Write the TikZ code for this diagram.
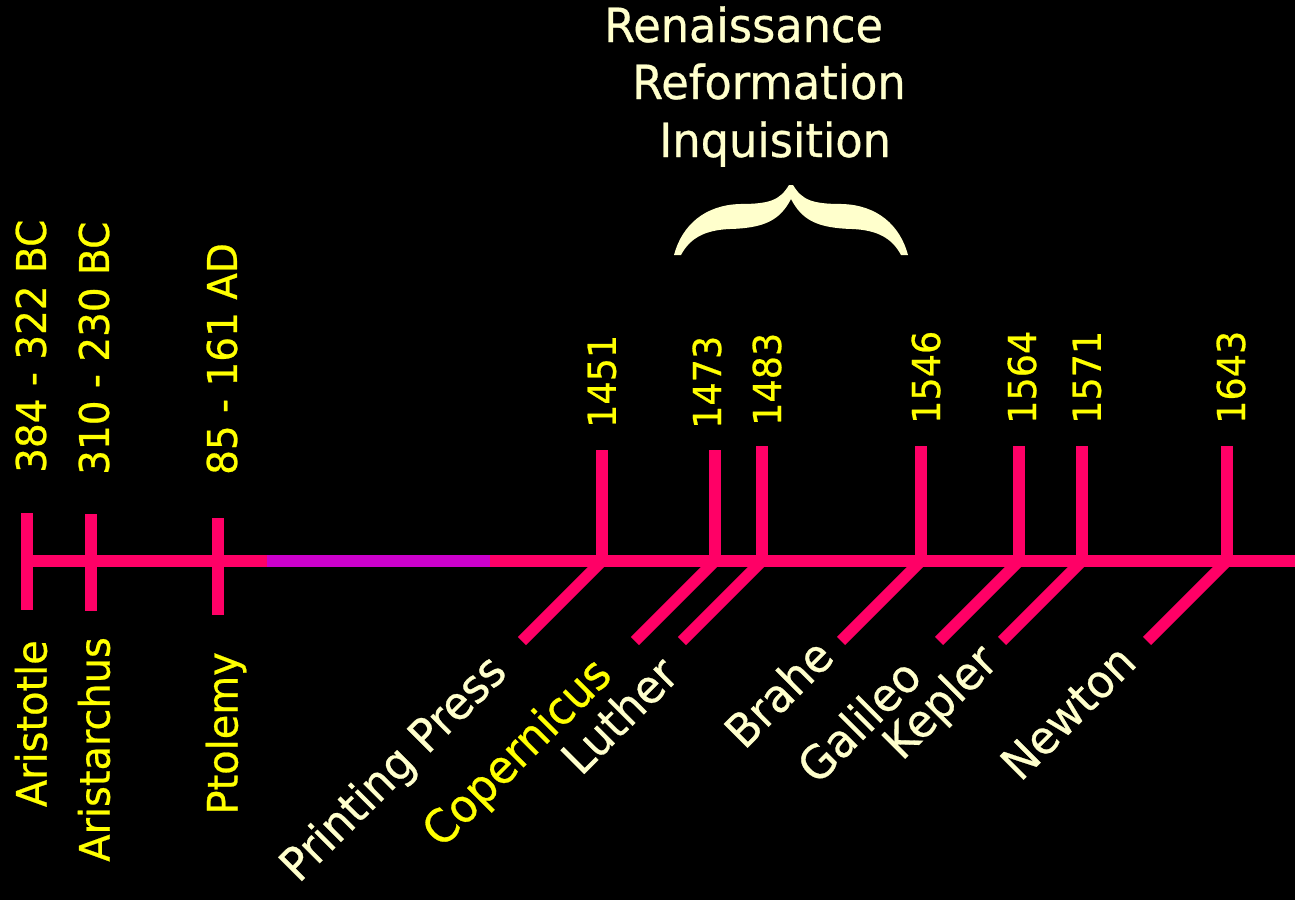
\documentclass[tikz,border=0pt]{standalone}
\usepackage{fontspec}
\setmainfont{DejaVu Sans}[FakeStretch=0.95,FakeBold=0.6]
\definecolor{tlpink}{HTML}{FF0066}
\definecolor{tlpurple}{HTML}{CC00CC}
\definecolor{tlyellow}{HTML}{FFFF00}
\definecolor{tlcream}{HTML}{FFFFCC}
\begin{document}
\begin{tikzpicture}[x=1pt,y=-1pt,
  bar/.style={draw=tlpink,line width=11.5pt},
  yr/.style={text=tlyellow,font=\fontsize{38.5}{42}\selectfont,rotate=90,anchor=west,inner sep=0pt},
  dt/.style={text=tlyellow,font=\fontsize{41}{45}\selectfont,rotate=90,anchor=west,inner sep=0pt},
  who/.style={text=tlyellow,font=\fontsize{42}{46}\selectfont,rotate=90,anchor=east,inner sep=0pt},
  ev/.style={text=tlcream,font=\fontsize{46}{50}\selectfont,rotate=45,anchor=east,inner sep=0pt},
  era/.style={text=tlcream,font=\fontsize{47}{52}\selectfont,anchor=base west,inner sep=0pt}]
\fill[black] (0,0) rectangle (1295,900);
\useasboundingbox (0,0) rectangle (1295,900);

% main line
\coordinate (L0) at (27,561);
\coordinate (P1) at (267,561);
\coordinate (P2) at (490,561);
\coordinate (R0) at (1295,561);
\draw[bar] (L0) -- (P1);
\draw[bar,draw=tlpurple] (P1) -- (P2);
\draw[bar] (P2) -- (R0);

% ancient ticks
\coordinate (a1t) at (27,513);  \coordinate (a1b) at (27,610);
\coordinate (a2t) at (91,514);  \coordinate (a2b) at (91,611);
\coordinate (a3t) at (218,518); \coordinate (a3b) at (218,615);
\draw[bar] (a1t) -- (a1b);
\draw[bar] (a2t) -- (a2b);
\draw[bar] (a3t) -- (a3b);

% modern ticks
\foreach \n/\x/\t in {m1/602/450,m2/715/450,m3/762/446,m4/921/446,m5/1019/446,m6/1082/446,m7/1227/446}{
  \coordinate (\n base) at (\x,561);
  \coordinate (\n top) at (\x,\t);
  \coordinate (\n low) at (\x-80,641);
  \draw[bar] (\n base) -- (\n top);
  \draw[bar] (\n base) -- (\n low);
}

% dates
\node[dt] (d1) at (31,473) {384 - 322 BC};
\node[dt] (d2) at (94,475) {310 - 230 BC};
\node[dt] (d3) at (222,475) {85 - 161 AD};

% years
\node[yr] (y1) at (602,428) {1451};
\node[yr] (y2) at (707,429) {1473};
\node[yr] (y3) at (767,426) {1483};
\node[yr] (y4) at (926,424) {1546};
\node[yr] (y5) at (1022,424) {1564};
\node[yr] (y6) at (1087,424) {1571};
\node[yr] (y7) at (1231,424) {1643};

% ancient names
\node[who] (n1) at (31,640) {Aristotle};
\node[who] (n2) at (94,637) {Aristarchus};
\node[who] (n3) at (226,652) {Ptolemy};

% modern events
\node[ev] (e1) at (500,665) {Printing Press};
\node[ev,text=tlyellow] (e2) at (605,668) {Copernicus};
\node[ev] (e3) at (669,665) {Luther};
\node[ev] (e4) at (824,647) {Brahe};
\node[ev] (e5) at (912,667) {Galileo};
\node[ev] (e6) at (991,655) {Kepler};
\node[ev] (e7) at (1127,653) {Newton};

% eras
\node[era] (r1) at (604,42) {Renaissance};
\node[era] (r2) at (632,99) {Reformation};
\node[era] (r3) at (659,157) {Inquisition};

% brace
\fill[tlcream] (789,185) .. controls (780,200) and (770,204) .. (740,204)
  .. controls (705,205) and (682,225) .. (674,255) -- (681,255)
  .. controls (690,238) and (705,230) .. (730,229)
  .. controls (765,228) and (780,220) .. (791,199)
  .. controls (802,220) and (817,228) .. (852,229)
  .. controls (877,230) and (892,238) .. (901,255) -- (908,255)
  .. controls (900,225) and (877,205) .. (842,204)
  .. controls (812,204) and (802,200) .. (793,185) -- cycle;
\end{tikzpicture}
\end{document}
